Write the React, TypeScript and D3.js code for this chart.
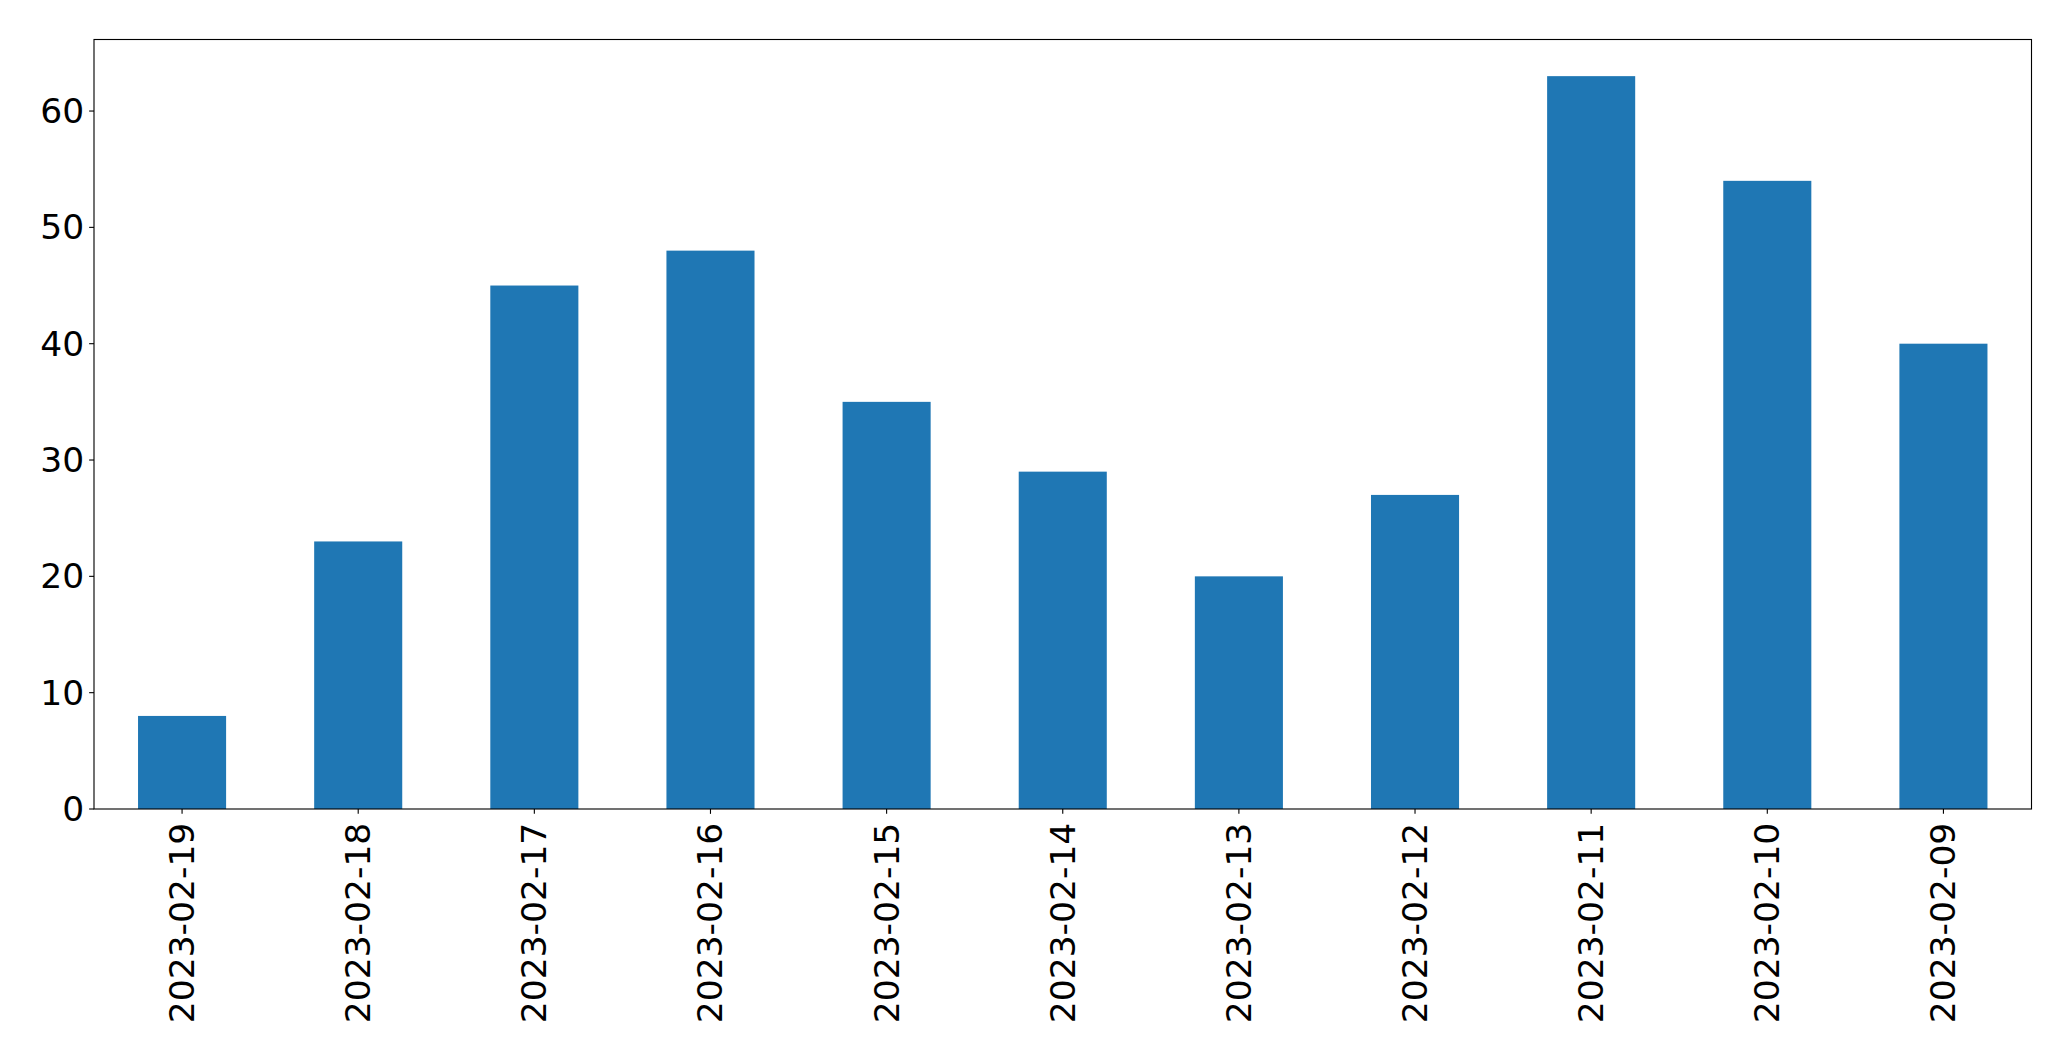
import React from "react";
import * as d3 from "d3";

const categories = [
  "2023-02-19", "2023-02-18", "2023-02-17", "2023-02-16", "2023-02-15",
  "2023-02-14", "2023-02-13", "2023-02-12", "2023-02-11", "2023-02-10", "2023-02-09",
];
const values = [8, 23, 45, 48, 35, 29, 20, 27, 63, 54, 40];
const yTicks = [0, 10, 20, 30, 40, 50, 60];

const W = 2071;
const H = 1061;
const left = 94;
const right = 2031.5;
const top = 39.5;
const bottom = 809;
const fontSize = 34.5;
const tickLen = 4.86;
const pad = 4.86;

export default function App() {
  const n = categories.length;
  const x = d3.scaleLinear().domain([-0.5, n - 0.5]).range([left, right]);
  const yMax = d3.max(values)! * 1.05;
  const y = d3.scaleLinear().domain([0, yMax]).range([bottom, top]);
  const barW = x(0.25) - x(-0.25);
  const font = "'DejaVu Sans', sans-serif";

  return (
    <svg
      width={W}
      height={H}
      style={{ position: "absolute", left: 0, top: 0, background: "#fff" }}
      fontFamily={font}
    >
      <rect x={0} y={0} width={W} height={H} fill="#fff" />
      {values.map((v, i) => (
        <rect
          key={i}
          x={x(i) - barW / 2}
          y={y(v)}
          width={barW}
          height={y(0) - y(v)}
          fill="#1f77b4"
        />
      ))}
      <rect
        x={left}
        y={top}
        width={right - left}
        height={bottom - top}
        fill="none"
        stroke="#000"
        strokeWidth={1.11}
      />
      {yTicks.map((t) => (
        <g key={t}>
          <line x1={left - tickLen} x2={left} y1={y(t)} y2={y(t)} stroke="#000" strokeWidth={1.11} />
          <text
            x={left - tickLen - pad}
            y={y(t)}
            textAnchor="end"
            dominantBaseline="central"
            fontSize={fontSize}
            fill="#000"
          >
            {t}
          </text>
        </g>
      ))}
      {categories.map((c, i) => (
        <g key={c}>
          <line x1={x(i)} x2={x(i)} y1={bottom} y2={bottom + tickLen} stroke="#000" strokeWidth={1.11} />
          <text
            transform={`translate(${x(i)},${bottom + tickLen + pad + 4}) rotate(-90)`}
            textAnchor="end"
            dominantBaseline="central"
            fontSize={fontSize}
            fill="#000"
          >
            {c}
          </text>
        </g>
      ))}
    </svg>
  );
}
